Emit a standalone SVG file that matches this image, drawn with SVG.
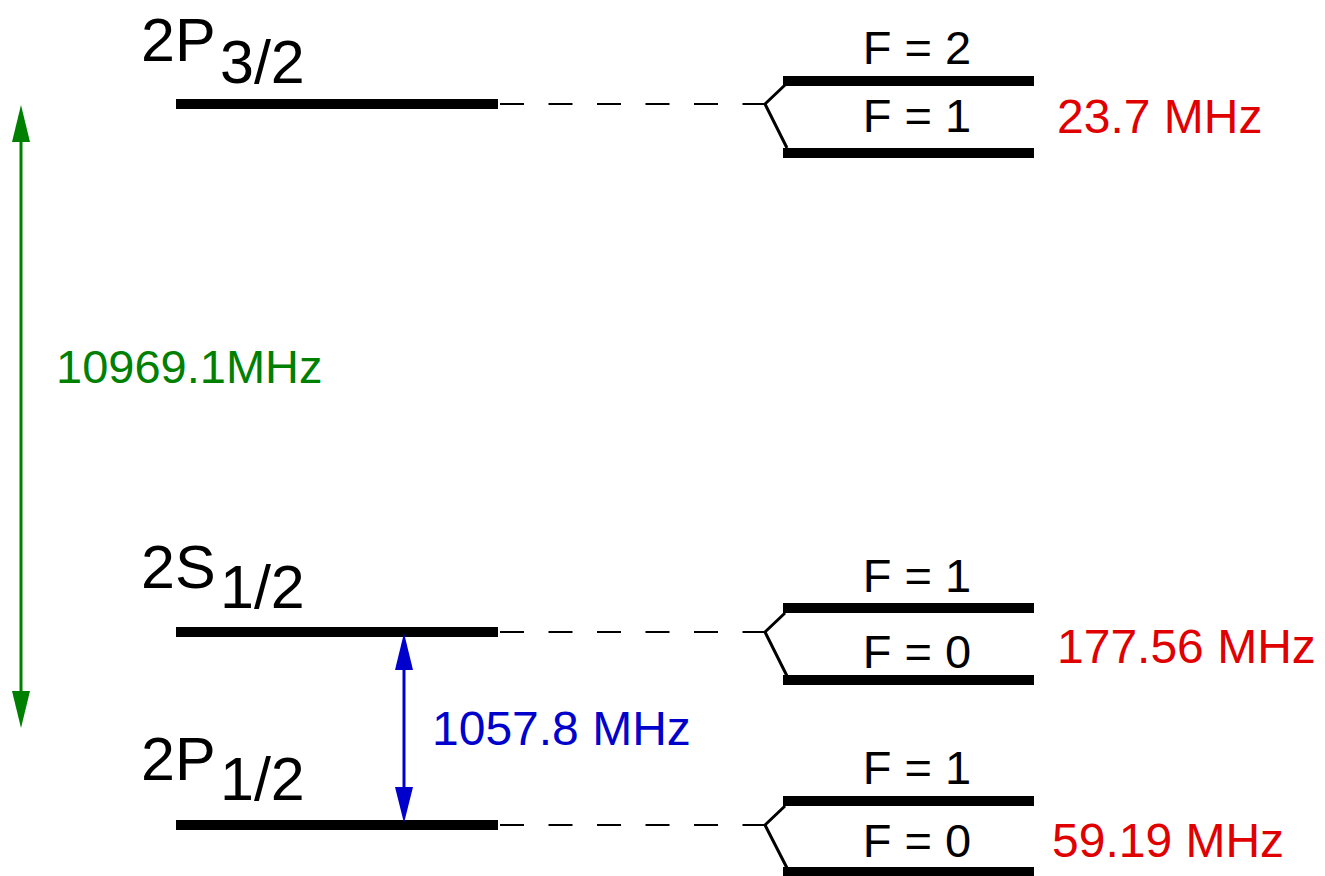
<svg xmlns="http://www.w3.org/2000/svg" width="1325" height="876" viewBox="0 0 1325 876">
<style>
text{font-family:"Liberation Sans",Arial,sans-serif;}
.lvl{fill:#000;}
.state{font-size:61px;fill:#000;}
.f{font-size:47px;fill:#000;text-anchor:middle;}
.red{font-size:48px;fill:#e00000;}
.dash{stroke:#000;stroke-width:2;stroke-dasharray:24 24.5;fill:none;}
.split{stroke:#000;stroke-width:3;fill:none;}
</style>
<g id="level-2P32">
<rect class="lvl" x="176" y="99" width="322" height="10"/>
<text class="state" x="141" y="61">2P<tspan x="220" y="83">3/2</tspan></text>
</g>
<g id="level-2S12">
<rect class="lvl" x="176" y="627" width="322" height="10"/>
<text class="state" x="141" y="588">2S<tspan x="220" y="608">1/2</tspan></text>
</g>
<g id="level-2P12">
<rect class="lvl" x="176" y="820" width="322" height="10"/>
<text class="state" x="141" y="780">2P<tspan x="220" y="800">1/2</tspan></text>
</g>
<g id="hf-2P32">
<rect class="lvl" x="783" y="76" width="251" height="10"/>
<rect class="lvl" x="783" y="148" width="251" height="10"/>
<text class="f" x="917" y="64">F = 2</text>
<text class="f" x="917" y="132">F = 1</text>
<text class="red" x="1057" y="133">23.7 MHz</text>
</g>
<g id="hf-2S12">
<rect class="lvl" x="783" y="603" width="251" height="10"/>
<text class="f" x="917" y="592">F = 1</text>
<rect class="lvl" x="783" y="675" width="251" height="10"/>
<text class="f" x="917" y="668">F = 0</text>
<text class="red" x="1057" y="663">177.56 MHz</text>
</g>
<g id="hf-2P12">
<rect class="lvl" x="783" y="796" width="251" height="10"/>
<text class="f" x="917" y="784">F = 1</text>
<rect class="lvl" x="783" y="867" width="251" height="10"/>
<text class="f" x="917" y="857">F = 0</text>
<text class="red" x="1052" y="857">59.19 MHz</text>
</g>
<g id="connectors">
<path class="dash" d="M500 104H765M500 632H765M500 825H765"/>
<path class="split" d="M765 104L785 85M765 104L787 148M765 632L785 613M765 632L787 676M765 825L785 806M765 825L787 868"/>
<g id="green-arrow">
<line x1="21" y1="140" x2="21" y2="694" stroke="#008000" stroke-width="3"/>
<polygon points="21,105 12,142 30,142" fill="#008000"/>
<polygon points="21,728 12,691 30,691" fill="#008000"/>
<text x="56" y="383" font-size="47" fill="#008000">10969.1MHz</text>
</g>
<g id="blue-arrow">
<line x1="404" y1="668" x2="404" y2="789" stroke="#0000cc" stroke-width="3"/>
<polygon points="404,633 395,670 413,670" fill="#0000cc"/>
<polygon points="404,823 395,787 413,787" fill="#0000cc"/>
<text x="432" y="745" font-size="48" fill="#0000cc">1057.8 MHz</text>
</g>
</g>
</svg>
